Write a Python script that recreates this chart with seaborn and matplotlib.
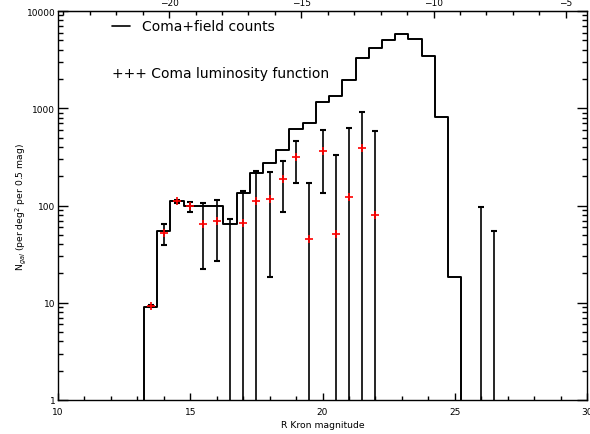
import numpy as np
import pandas as pd
import matplotlib
matplotlib.use("Agg")
import matplotlib.pyplot as plt
from matplotlib.ticker import MultipleLocator, FixedLocator, FuncFormatter, NullFormatter
import seaborn as sns

# Coma+field counts in 0.5 mag bins (R Kron magnitude)
bin_centers = [13.5, 14.0, 14.5, 15.0, 15.5, 16.0, 16.5, 17.0, 17.5, 18.0, 18.5, 19.0,
               19.5, 20.0, 20.5, 21.0, 21.5, 22.0, 22.5, 23.0, 23.5, 24.0, 24.5, 25.0]
field_counts = [9.1, 54.5, 110, 100, 100, 100, 64, 134, 216, 274, 375, 617,
                705, 1157, 1333, 1960, 3320, 4140, 5045, 5770, 5120, 3475, 805, 18.3]

# Coma luminosity function (field subtracted); nan = negative value
lf_mag = [13.5, 14.0, 14.5, 15.0, 15.5, 16.0, 16.5, 17.0, 17.5, 18.0, 18.5, 19.0,
          19.5, 20.0, 20.5, 21.0, 21.5, 22.0, 26.0, 26.5]
lf_value = [9.2, 52.5, 110.7, 98.4, 65, 70, np.nan, 66.4, 110.7, 118, 189, 317,
            44.8, 366, 50.4, 121, 393, 80.2, np.nan, np.nan]
lf_low = [9.0, 39.5, 107, 85.3, 22, 26.8, 0.5, 0.5, 0.5, 18.6, 85.3, 170,
          0.5, 136, 0.5, 0.5, 0.5, 0.5, 0.5, 0.5]
lf_high = [9.4, 63.8, 113, 109, 105.6, 113, 73.5, 142.6, 225, 220, 290, 458,
           172, 592, 328, 621, 912, 583, 96, 54.5]

# R apparent -> absolute magnitude offset (top axis)
dist_mod = 34.2


def main():
    sns.set_style("ticks")
    plt.rcParams["font.family"] = ["DejaVu Sans"]
    plt.rcParams["text.color"] = "black"
    plt.rcParams["axes.labelcolor"] = "black"
    plt.rcParams["xtick.color"] = "black"
    plt.rcParams["ytick.color"] = "black"

    fig = plt.figure(figsize=(5.9, 4.35), dpi=100)
    ax = fig.add_axes([58 / 590, 34 / 435, 529 / 590, 389 / 435])

    # histogram of total counts, one empty bin on each side so the steps drop
    counts = pd.DataFrame({"mag": bin_centers, "n": field_counts})
    sns.histplot(data=counts, x="mag", weights="n", binwidth=0.5,
                 binrange=(bin_centers[0] - 0.75, bin_centers[-1] + 0.75),
                 element="step", fill=False, color="black", linewidth=1.4, ax=ax)

    # error bars and red crosses for the luminosity function
    ax.vlines(lf_mag, lf_low, lf_high, color="black", linewidth=1.2)
    ax.plot(lf_mag, lf_high, ls="none", marker="_", ms=5, mew=1.5, color="black")
    ax.plot(lf_mag, lf_low, ls="none", marker="_", ms=5, mew=1.5, color="black")
    sns.scatterplot(x=lf_mag, y=lf_value, marker="+", color="red", s=36,
                    linewidth=1.2, ax=ax, zorder=5)

    ax.set_yscale("log")
    ax.set_xlim(10, 30)
    ax.set_ylim(1, 10000)

    ax.xaxis.set_major_locator(MultipleLocator(5))
    ax.xaxis.set_minor_locator(MultipleLocator(1))
    ax.yaxis.set_major_locator(FixedLocator([1, 10, 100, 1000, 10000]))
    ax.yaxis.set_major_formatter(FuncFormatter(lambda v, p: f"{v:g}"))
    ax.yaxis.set_minor_formatter(NullFormatter())
    ax.tick_params(axis="x", which="both", direction="in", top=False, bottom=True,
                   labelsize=6.5, pad=5)
    ax.tick_params(axis="x", which="major", length=5, width=1)
    ax.tick_params(axis="x", which="minor", length=3, width=1)
    ax.tick_params(axis="y", which="both", direction="in", left=True, right=True,
                   labelsize=6.5, pad=2)
    ax.tick_params(axis="y", which="major", length=7, width=1)
    ax.tick_params(axis="y", which="minor", length=3.5, width=1)
    for s in ax.spines.values():
        s.set_linewidth(1.0)
        s.set_color("black")

    # absolute magnitude along the top
    secax = ax.secondary_xaxis("top", functions=(lambda r: r - dist_mod,
                                                 lambda m: m + dist_mod))
    secax.xaxis.set_major_locator(FixedLocator([-20, -15, -10, -5]))
    secax.xaxis.set_minor_locator(MultipleLocator(1))
    secax.tick_params(which="both", direction="in", labelsize=6.5, pad=3)
    secax.tick_params(which="major", length=5, width=1)
    secax.tick_params(which="minor", length=3, width=1)

    ax.set_xlabel("R Kron magnitude", fontsize=6.7, labelpad=3)
    ax.set_ylabel("N$_{gal}$ (per deg$^2$ per 0.5 mag)", fontsize=6.7, labelpad=-1)

    # hand-drawn legend
    ax.plot([0.1015, 0.136], [0.961, 0.961], transform=ax.transAxes,
            color="black", linewidth=1.2)
    ax.text(0.158, 0.961, "Coma+field counts", transform=ax.transAxes,
            fontsize=10, va="center", ha="left")
    ax.text(0.1015, 0.841, "+++ Coma luminosity function", transform=ax.transAxes,
            fontsize=10, va="center", ha="left")

    fig.savefig("out.png", dpi=100)


if __name__ == "__main__":
    main()
